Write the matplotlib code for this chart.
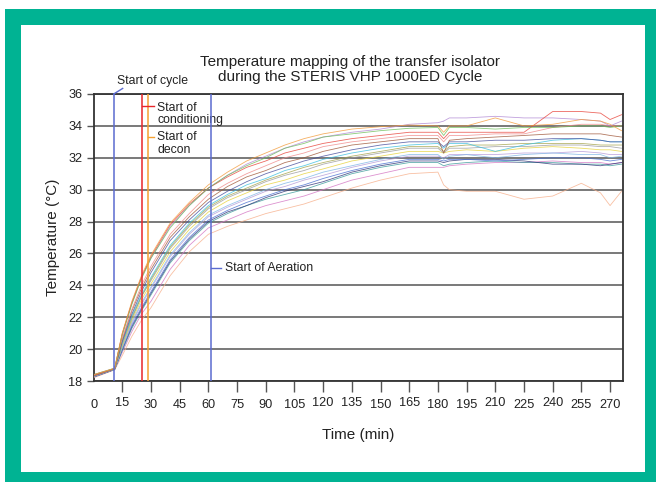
import matplotlib
matplotlib.use("Agg")
import matplotlib.pyplot as plt
from matplotlib.patches import Rectangle

plt.rcParams['font.family'] = ['Liberation Sans', 'DejaVu Sans']

# sample times (min)
minutes = [0, 11, 15, 20, 25, 30, 40, 50, 60, 70, 80, 90, 100, 110, 120, 135,
           150, 165, 180, 183, 186, 195, 210, 225, 240, 255, 265, 270, 276]

# temperature of each probe (deg C) at those times
orange = [18.4, 18.8, 21.0, 23.0, 24.6, 25.9, 27.9, 29.2, 30.3, 31.1, 31.8, 32.3, 32.8, 33.2, 33.5,
          33.8, 33.95, 34.05, 34.0, 33.6, 34.0, 34.0, 34.5, 34.0, 34.1, 34.4, 34.3, 34.1, 33.7]
green = [18.4, 18.8, 20.9, 22.8, 24.4, 25.7, 27.6, 29.0, 30.1, 30.9, 31.5, 32.0, 32.6, 32.9, 33.3,
         33.5, 33.7, 33.85, 33.9, 33.4, 33.9, 33.9, 33.8, 33.9, 33.9, 34.0, 34.0, 33.9, 34.0]
red = [18.35, 18.78, 21.0, 22.9, 24.5, 25.8, 27.8, 29.1, 30.1, 30.8, 31.4, 31.8, 32.3, 32.6, 32.9,
       33.2, 33.4, 33.6, 33.6, 33.2, 33.6, 33.6, 33.6, 33.6, 34.9, 34.9, 34.8, 34.4, 34.7]
salmon = [18.35, 18.78, 20.7, 22.5, 24.0, 25.2, 27.2, 28.5, 29.7, 30.4, 31.0, 31.5, 32.0, 32.3, 32.7,
          33.0, 33.2, 33.4, 33.4, 33.0, 33.4, 33.4, 33.5, 33.5, 33.9, 34.1, 34.1, 34.0, 34.0]
purple = [18.4, 18.8, 20.9, 22.9, 24.5, 25.7, 27.7, 29.0, 30.1, 30.9, 31.6, 32.1, 32.6, 33.0, 33.3,
          33.6, 33.8, 34.1, 34.2, 34.3, 34.5, 34.5, 34.6, 34.5, 34.5, 34.4, 34.3, 34.0, 34.3]
brown = [18.34, 18.77, 20.6, 22.4, 23.8, 25.0, 27.0, 28.3, 29.4, 30.2, 30.8, 31.2, 31.7, 32.0, 32.4,
         32.8, 33.0, 33.2, 33.2, 32.3, 33.1, 33.2, 33.3, 33.4, 33.5, 33.5, 33.5, 33.4, 33.3]
navy = [18.33, 18.77, 20.5, 22.2, 23.6, 24.8, 26.8, 28.1, 29.2, 29.9, 30.5, 31.0, 31.4, 31.8, 32.1,
        32.5, 32.8, 33.0, 33.0, 32.7, 33.0, 33.0, 33.1, 33.1, 33.2, 33.2, 33.1, 33.0, 33.0]
cyan = [18.32, 18.76, 20.4, 22.1, 23.4, 24.5, 26.5, 27.9, 29.0, 29.7, 30.3, 30.7, 31.2, 31.5, 31.9,
        32.3, 32.6, 32.8, 32.9, 32.6, 32.9, 32.9, 32.4, 32.8, 33.1, 33.2, 33.1, 33.0, 33.0]
olive = [18.31, 18.76, 20.4, 22.0, 23.3, 24.4, 26.4, 27.8, 28.9, 29.6, 30.1, 30.6, 31.0, 31.4, 31.7,
         32.1, 32.4, 32.7, 32.7, 32.4, 32.7, 32.8, 32.8, 32.9, 32.9, 32.9, 32.8, 32.8, 32.8]
gray = [18.3, 18.75, 20.3, 21.9, 23.3, 24.3, 26.3, 27.7, 28.8, 29.5, 30.0, 30.5, 30.9, 31.2, 31.6,
        32.0, 32.3, 32.6, 32.6, 32.3, 32.6, 32.6, 32.7, 32.7, 32.8, 32.8, 32.7, 32.7, 32.6]
yellow = [18.3, 18.75, 20.2, 21.8, 23.1, 24.1, 26.1, 27.5, 28.6, 29.3, 29.8, 30.3, 30.6, 31.0, 31.3,
          31.8, 32.1, 32.4, 32.4, 32.3, 32.4, 32.5, 32.4, 32.6, 32.7, 32.6, 32.5, 32.5, 32.4]
light_blue = [18.28, 18.74, 20.1, 21.7, 22.9, 23.9, 25.9, 27.3, 28.4, 29.0, 29.5, 30.0, 30.4, 30.7, 31.1,
              31.5, 31.9, 32.2, 32.2, 31.9, 32.1, 32.2, 32.0, 32.2, 32.3, 32.2, 32.2, 32.0, 32.1]
lilac = [18.27, 18.74, 20.1, 21.6, 22.8, 23.8, 25.8, 27.2, 28.3, 28.9, 29.4, 29.9, 30.2, 30.6, 30.9,
         31.4, 31.8, 32.1, 32.1, 32.0, 32.2, 32.2, 32.2, 32.3, 32.3, 32.4, 32.3, 32.2, 32.2]
blue = [18.26, 18.73, 20.0, 21.5, 22.6, 23.6, 25.6, 27.0, 28.1, 28.7, 29.2, 29.6, 30.0, 30.3, 30.7,
        31.2, 31.6, 31.9, 31.9, 31.8, 31.9, 31.9, 31.8, 31.9, 32.0, 32.0, 31.9, 31.8, 31.9]
dark_navy = [18.26, 18.73, 20.0, 21.4, 22.5, 23.5, 25.5, 26.9, 28.0, 28.6, 29.0, 29.5, 29.9, 30.2, 30.5,
             31.1, 31.5, 31.8, 31.8, 31.7, 31.8, 31.9, 31.9, 31.8, 31.6, 31.6, 31.5, 31.6, 31.7]
teal = [18.25, 18.72, 19.9, 21.3, 22.4, 23.4, 25.4, 26.8, 27.9, 28.5, 29.0, 29.4, 29.7, 30.0, 30.4,
        31.0, 31.4, 31.7, 31.7, 31.5, 31.6, 31.7, 31.8, 31.7, 31.7, 31.6, 31.6, 31.5, 31.6]
magenta = [18.23, 18.71, 19.8, 21.1, 22.2, 23.0, 25.0, 26.5, 27.6, 28.1, 28.6, 29.0, 29.3, 29.6, 30.0,
           30.6, 31.0, 31.4, 31.4, 31.4, 31.5, 31.6, 31.7, 31.7, 31.8, 31.7, 31.7, 31.6, 31.7]
peach = [18.2, 18.7, 19.6, 20.8, 21.8, 22.6, 24.6, 26.1, 27.2, 27.7, 28.1, 28.5, 28.8, 29.1, 29.5,
         30.1, 30.6, 31.0, 31.1, 30.3, 30.0, 29.9, 29.9, 29.4, 29.6, 30.4, 29.8, 29.0, 29.9]

# event markers (min)
event_times = [10.5, 25.5, 28.7, 61.4]
event_colors = ['#5b6bd0', '#e8262a', '#f5a030', '#5b6bd0']

probes = [peach, magenta, teal, dark_navy, blue, lilac, light_blue, yellow, gray, olive,
          cyan, navy, brown, salmon, purple, red, green, orange]
probe_colors = ['#f7b08c', '#d476c4', '#3a9a9a', '#2e3478', '#4a6fd0', '#b49ad8', '#7fb6e6',
                '#e6d33c', '#9a9a9a', '#a3a34a', '#3cc0e0', '#464d9c', '#a0583a', '#f08a8a',
                '#b088d4', '#e8443a', '#6fbf5a', '#f39c3c']

fig = plt.figure(figsize=(6.56, 4.82), dpi=100)

# green frame around the chart
fig.patches.append(Rectangle((5 / 656, 0), 651 / 656, 473 / 482, transform=fig.transFigure,
                             facecolor='#00b393', edgecolor='none', zorder=-2))
fig.patches.append(Rectangle((21 / 656, 10 / 482), 624 / 656, 447 / 482, transform=fig.transFigure,
                             facecolor='white', edgecolor='none', zorder=-1))

ax = fig.add_axes([93.6 / 656, 1 - 381 / 482, (622.5 - 93.6) / 656, (381 - 94) / 482])
ax.set_facecolor('none')

for vals, c in zip(probes, probe_colors):
    ax.plot(minutes, vals, color=c, lw=0.6, alpha=0.8, zorder=3)

for t, c in zip(event_times, event_colors):
    ax.axvline(t, color=c, lw=1.1, zorder=4)

ax.set_xlim(0, 276.5)
ax.set_ylim(18, 36)
ax.set_xticks(range(0, 271, 15))
ax.set_yticks(range(18, 37, 2))
ax.grid(axis='y', color='#555555', lw=1.1, zorder=1)
ax.set_axisbelow(True)
for s in ax.spines.values():
    s.set_color('#333333')
    s.set_linewidth(1.3)
ax.tick_params(axis='x', direction='out', length=8, width=1, color='#555555',
               labelsize=9.2, pad=5, labelcolor='#222222')
ax.tick_params(axis='y', direction='out', length=5, width=1, color='#555555',
               labelsize=9.2, pad=3, labelcolor='#222222')
xt = ax.xaxis.get_major_ticks()
xt[0].tick1line.set_visible(False)
# some labels sit a little higher in the original
for i, v in enumerate(range(0, 271, 15)):
    if v in (15, 120, 135, 165, 210, 240):
        xt[i].set_pad(3.5)

ax.set_xlabel('Time (min)', fontsize=11, labelpad=12, color='#222222')
ax.set_ylabel('Temperature (°C)', fontsize=11, labelpad=6, color='#222222')
ax.set_title('Temperature mapping of the transfer isolator\nduring the STERIS VHP 1000ED Cycle',
             fontsize=11, color='#222222', pad=9, x=0.485, linespacing=1.15)

# event annotations
ax.plot([10.5, 15.2], [36, 36.35], color='#5b6bd0', lw=1, clip_on=False, zorder=5)
ax.text(12.0, 36.8, 'Start of cycle', fontsize=8.8, va='center', ha='left', color='#222222')
ax.plot([25.5, 31.5], [35.22, 35.22], color='#e8262a', lw=1, zorder=5)
ax.text(33.3, 34.75, 'Start of\nconditioning', fontsize=8.8, va='center', ha='left',
        linespacing=1.05, color='#222222')
ax.plot([28.7, 31.5], [33.3, 33.3], color='#f5a030', lw=1, zorder=5)
ax.text(33.3, 32.9, 'Start of\ndecon', fontsize=8.8, va='center', ha='left',
        linespacing=1.05, color='#222222')
ax.plot([61.4, 66.5], [25.1, 25.1], color='#5b6bd0', lw=1, zorder=5)
ax.text(68.5, 25.1, 'Start of Aeration', fontsize=8.8, va='center', ha='left', color='#222222')

fig.savefig('out.png', dpi=100)
